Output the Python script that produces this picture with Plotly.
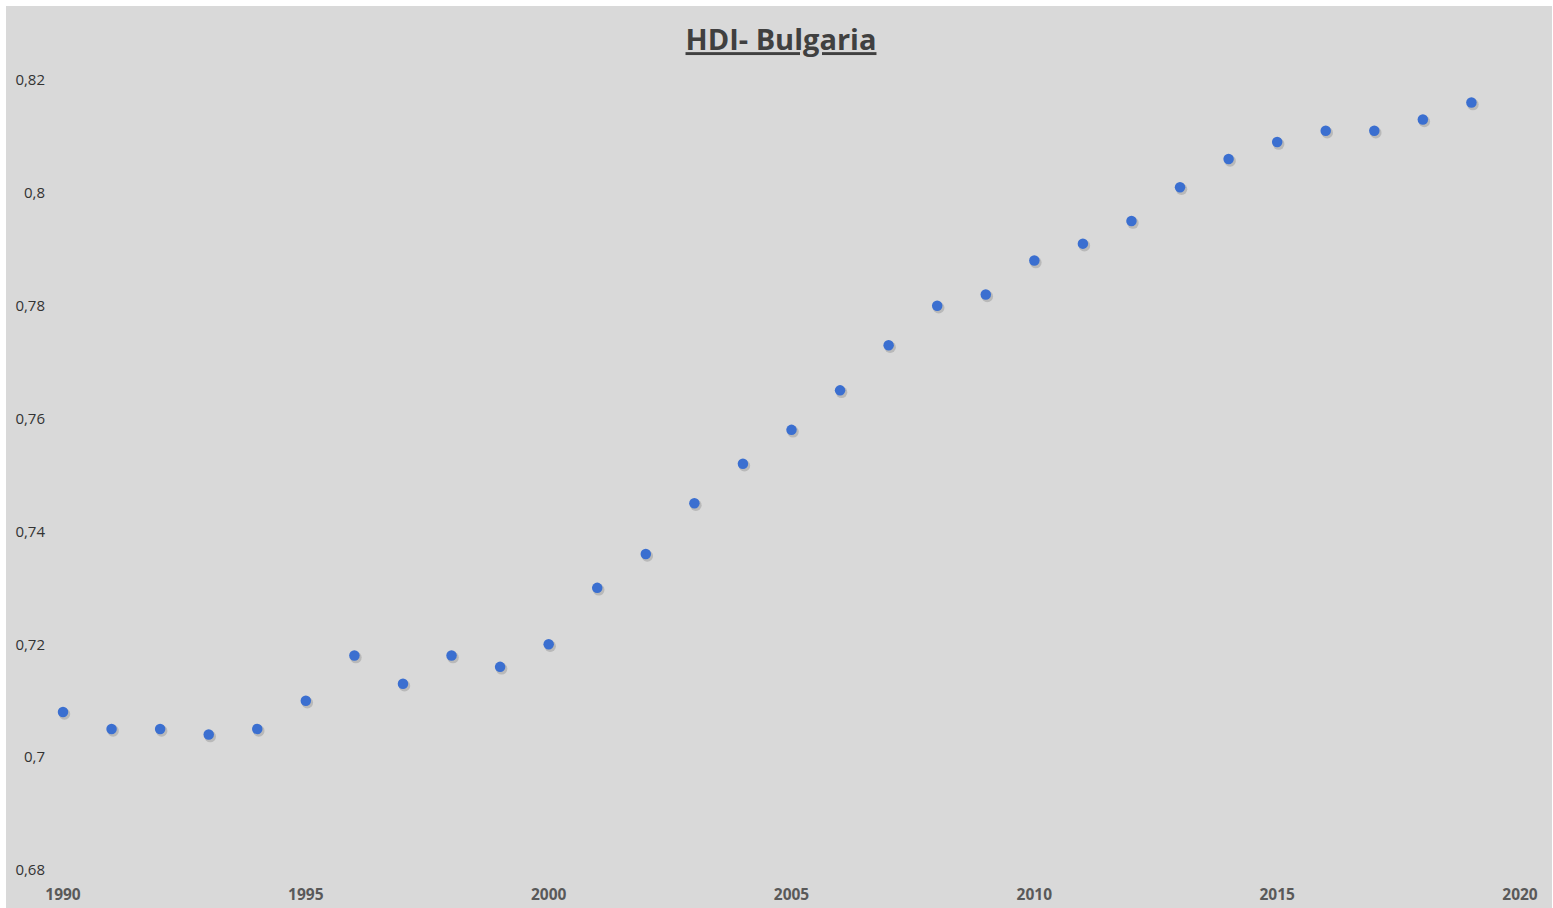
import plotly.graph_objects as go

# Human Development Index, Bulgaria
years = list(range(1990, 2020))
hdi = [0.708, 0.705, 0.705, 0.704, 0.705, 0.710, 0.718, 0.713, 0.718, 0.716,
       0.720, 0.730, 0.736, 0.745, 0.752, 0.758, 0.765, 0.773, 0.780, 0.782,
       0.788, 0.791, 0.795, 0.801, 0.806, 0.809, 0.811, 0.811, 0.813, 0.816]

x_ticks = [1990, 1995, 2000, 2005, 2010, 2015, 2020]
y_ticks = [0.68, 0.70, 0.72, 0.74, 0.76, 0.78, 0.80, 0.82]
y_tick_text = ["0,68", "0,7", "0,72", "0,74", "0,76", "0,78", "0,8", "0,82"]

W, H = 1553, 908
M_L, M_R, M_T, M_B = 63, 33, 80, 38
plot_w = W - M_L - M_R
plot_h = H - M_T - M_B
x_range = [1990, 2020]
y_range = [0.68, 0.82]

# soft drop shadow under each marker (offset a couple of pixels down-right)
dx = 1.5 * (x_range[1] - x_range[0]) / plot_w
dy = 2.0 * (y_range[1] - y_range[0]) / plot_h

fig = go.Figure()
fig.add_trace(go.Scatter(
    x=[v + dx for v in years], y=[v - dy for v in hdi],
    mode="markers",
    marker=dict(size=11.5, color="rgba(40,40,40,0.18)", line=dict(width=0)),
    hoverinfo="skip", showlegend=False, cliponaxis=False,
))
fig.add_trace(go.Scatter(
    x=years, y=hdi, mode="markers",
    marker=dict(size=10.5, color="#3b6fd0", line=dict(width=0)),
    showlegend=False, cliponaxis=False,
))

# thin white frame on the outer edge
def px_x(p):
    return (p - M_L) / plot_w

def px_y(p):
    return 1 - (p - M_T) / plot_h

frame = [
    (0, 0, W, 6),        # top
    (0, 0, 6, H),        # left
    (W - 1, 0, W, H),    # right
]
shapes = []
for x0, y0, x1, y1 in frame:
    shapes.append(dict(type="rect", xref="paper", yref="paper",
                       x0=px_x(x0), x1=px_x(x1), y0=px_y(y1), y1=px_y(y0),
                       fillcolor="white", line=dict(width=0), layer="above"))

fig.update_layout(
    width=W, height=H,
    margin=dict(l=M_L, r=M_R, t=M_T, b=M_B, pad=0, autoexpand=False),
    paper_bgcolor="#d9d9d9", plot_bgcolor="#d9d9d9",
    font=dict(family="Open Sans, Lato, sans-serif", color="#333333"),
    title=dict(
        text="<u><b>HDI- Bulgaria</b></u>",
        x=781 / W, xref="container", xanchor="center",
        y=1 - 40 / H, yref="container", yanchor="middle",
        font=dict(size=29, color="#404040", family="Open Sans, sans-serif"),
    ),
    shapes=shapes,
    xaxis=dict(
        range=x_range, tickvals=x_ticks, showgrid=False, zeroline=False,
        showline=False, ticks="outside", ticklen=10, tickcolor="rgba(0,0,0,0)",
        automargin=False,
        tickfont=dict(size=15.5, color="#595959", family="Open Sans, sans-serif", weight="bold"),
    ),
    yaxis=dict(
        range=y_range, tickvals=y_ticks, ticktext=y_tick_text, showgrid=False,
        zeroline=False, showline=False, ticks="outside", ticklen=14,
        tickcolor="rgba(0,0,0,0)", automargin=False,
        tickfont=dict(size=15, color="#333333"),
    ),
)

fig.write_html("out.html")
